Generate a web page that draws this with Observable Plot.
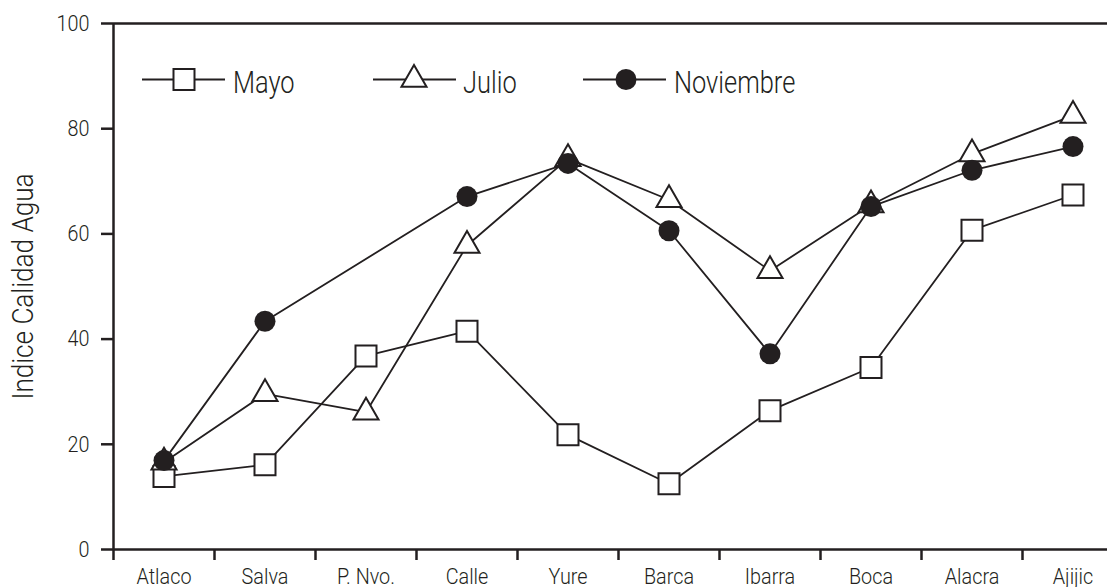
<!DOCTYPE html>
<html><head><meta charset="utf-8">
<script src="https://cdn.jsdelivr.net/npm/d3@7"></script>
<script src="https://cdn.jsdelivr.net/npm/@observablehq/plot@0.6"></script>
<style>body{margin:0;background:#fff} #chart{position:relative;width:1107px;height:587px}</style>
</head><body><div id="chart"></div>
<script>
const categories = ["Atlaco","Salva","P. Nvo.","Calle","Yure","Barca","Ibarra","Boca","Alacra","Ajijic"];
const mayo =      [13.9, 16.1, 36.8, 41.5, 21.8, 12.5, 26.4, 34.6, 60.7, 67.4];
const julio =     [16.6, 29.6, 26.1, 57.8, 74.3, 66.5, 53.0, 65.5, 75.2, 82.5];
const noviembre = [16.9, 43.4, null, 67.1, 73.4, 60.6, 37.2, 65.2, 72.1, 76.6];
const seriesNames = ["Mayo", "Julio", "Noviembre"];
const yTicks = [0, 20, 40, 60, 80, 100];
const yTitle = "Indice Calidad Agua";

const ink = "#231f20";
const FONT = "Roboto, 'Liberation Sans', sans-serif";

const rows = [];
[mayo, julio, noviembre].forEach((vals, s) => vals.forEach((v, i) => {
  if (v != null) rows.push({i, cat: categories[i], v, serie: seriesNames[s]});
}));
const bySerie = name => rows.filter(d => d.serie === name);

const boundaries = categories.map((_, i) => i - 0.5);
const centers = categories.map((_, i) => i);

const sizes = {square: 11.85, triangle: 9.3, circle: 10.5};

const plot = Plot.plot({
  width: 1107, height: 587,
  marginTop: 23, marginBottom: 38, marginLeft: 113, marginRight: 0,
  style: {fontFamily: FONT, fontWeight: 300, color: ink, background: "white", overflow: "visible"},
  x: {domain: [-0.5, categories.length - 0.5], range: [113, 1123]},
  y: {domain: [0, 100]},
  marks: [
    Plot.ruleY([0, 100], {stroke: ink, strokeWidth: 2.5}),
    Plot.ruleX([-0.5], {stroke: ink, strokeWidth: 2.5}),
    Plot.axisY({ticks: yTicks, tickSize: 12, tickPadding: 12, fontSize: 22.5, strokeWidth: 2.5, label: null, className: "tk"}),
    Plot.axisX({ticks: boundaries, tickSize: 11, tickFormat: () => "", strokeWidth: 2.5, label: null}),
    Plot.axisX({ticks: centers, tickSize: 0, tickPadding: 19, tickFormat: i => categories[i], fontSize: 22.5, label: null, className: "tk"}),
    Plot.line(rows, {x: "i", y: "v", z: "serie", stroke: ink, strokeWidth: 1.8}),
    Plot.dot(bySerie("Mayo"), {x: "i", y: "v", symbol: "square", r: sizes.square, fill: "white", stroke: ink, strokeWidth: 2}),
    Plot.dot(bySerie("Julio"), {x: "i", y: "v", symbol: "triangle", r: sizes.triangle, fill: "white", stroke: ink, strokeWidth: 2}),
    Plot.dot(bySerie("Noviembre"), {x: "i", y: "v", symbol: "circle", r: sizes.circle, fill: ink, stroke: "none"})
  ]
});
document.getElementById("chart").appendChild(plot);

const svg = d3.select(plot);
svg.append("text")
  .attr("class", "ttl")
  .attr("transform", "translate(33,286.5) rotate(-90)")
  .attr("text-anchor", "middle")
  .attr("font-size", 29)
  .attr("fill", ink)
  .text(yTitle);

const legendItems = [
  {name: seriesNames[0], x0: 142, x1: 225, cx: 184, tx: 233, sym: "square"},
  {name: seriesNames[1], x0: 373, x1: 456, cx: 414, tx: 463, sym: "triangle"},
  {name: seriesNames[2], x0: 583, x1: 666, cx: 626, tx: 674, sym: "circle"}
];
const symType = {square: d3.symbolSquare, triangle: d3.symbolTriangle, circle: d3.symbolCircle};
const ly = 79.5;
const lg = svg.append("g");
legendItems.forEach(it => {
  lg.append("line").attr("x1", it.x0).attr("x2", it.x1).attr("y1", ly).attr("y2", ly)
    .attr("stroke", ink).attr("stroke-width", 1.8);
  const r = sizes[it.sym];
  lg.append("path")
    .attr("d", d3.symbol(symType[it.sym], Math.PI * r * r)())
    .attr("transform", `translate(${it.cx},${ly})`)
    .attr("fill", it.sym === "circle" ? ink : "white")
    .attr("stroke", it.sym === "circle" ? "none" : ink)
    .attr("stroke-width", 2);
  lg.append("text").attr("x", it.tx).attr("y", ly + 13)
    .attr("text-anchor", "start")
    .attr("font-size", 31).attr("fill", ink)
    .text(it.name);
});

// condense text (the reference uses a condensed face)
function condense(nodes, k) {
  nodes.forEach(t => {
    const len = t.getComputedTextLength();
    if (len > 0) {
      t.setAttribute("textLength", (len * k).toFixed(2));
      t.setAttribute("lengthAdjust", "spacingAndGlyphs");
    }
  });
}
condense(plot.querySelectorAll(".tk text"), 0.88);
condense(plot.querySelectorAll(".ttl"), 0.9);
condense(lg.node().querySelectorAll("text"), 0.82);
</script>
</body></html>
